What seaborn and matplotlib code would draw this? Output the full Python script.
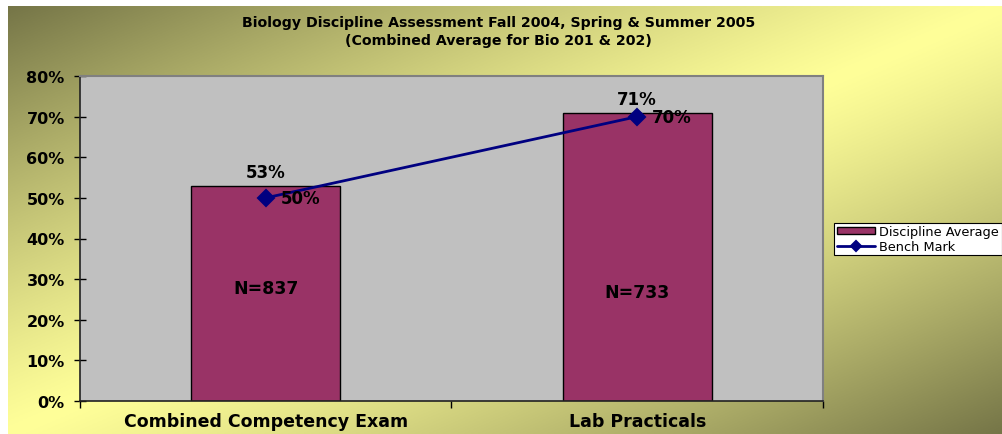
import matplotlib
matplotlib.use("Agg")
import matplotlib.pyplot as plt
import numpy as np
import seaborn as sns
from matplotlib.ticker import FixedLocator, PercentFormatter

categories = ["Combined Competency Exam", "Lab Practicals"]
discipline_avg = [0.53, 0.71]
bench_mark = [0.50, 0.70]
n_labels = ["N=837", "N=733"]
n_label_y = [0.278, 0.268]

title = ("Biology Discipline Assessment Fall 2004, Spring & Summer 2005\n"
         "(Combined Average for Bio 201 & 202)")

sns.set_theme(style="white")
plt.rcParams["font.family"] = ["DejaVu Sans"]
plt.rcParams["text.color"] = "black"
plt.rcParams["xtick.color"] = "black"
plt.rcParams["ytick.color"] = "black"
plt.rcParams["axes.labelcolor"] = "black"

fig = plt.figure(figsize=(10.03, 4.35), dpi=100)
fig.patch.set_facecolor("white")

# gradient background (dark olive corners, pale yellow along the anti-diagonal)
bg = fig.add_axes([8 / 1003, 0, 1 - 8 / 1003, 1 - 7 / 435], zorder=-5)
gx, gy = np.meshgrid(np.linspace(0, 1, 400), np.linspace(0, 1, 200))
t = np.abs(gx + gy - 1) ** 1.2
dark = np.array([0.46, 0.46, 0.28])
light = np.array([1.0, 1.0, 0.60])
img = light[None, None, :] + (dark - light)[None, None, :] * t[..., None]
bg.imshow(img, aspect="auto", extent=[0, 1, 1, 0])
bg.axis("off")

ax = fig.add_axes([80 / 1003, 1 - 402 / 435, 743 / 1003, 325 / 435])
ax.set_facecolor("#c0c0c0")

sns.barplot(x=categories, y=discipline_avg, color="#993366", width=0.4,
            edgecolor="black", linewidth=1, saturation=1, ax=ax,
            label="Discipline Average")
sns.pointplot(x=categories, y=bench_mark, color="#000080", marker="D",
              markersize=8, linewidth=2, errorbar=None, ax=ax,
              label="Bench Mark")

for i, v in enumerate(discipline_avg):
    ax.text(i, v + 0.012, f"{v:.0%}", ha="center", va="bottom",
            fontsize=12, fontweight="bold")
for i, v in enumerate(bench_mark):
    ax.text(i + 0.04, v, f"{v:.0%}", ha="left", va="center",
            fontsize=12, fontweight="bold")
for i, s in enumerate(n_labels):
    ax.text(i, n_label_y[i], s, ha="center", va="center",
            fontsize=12.5, fontweight="bold")

ax.set_xlim(-0.5, 1.5)
ax.set_ylim(0, 0.8)
ax.yaxis.set_major_locator(FixedLocator(np.arange(0, 0.81, 0.1)))
ax.yaxis.set_major_formatter(PercentFormatter(1.0, decimals=0))
ax.tick_params(axis="y", direction="inout", length=8, width=1,
               labelsize=11.5, pad=7, left=True)
for lab in ax.get_yticklabels():
    lab.set_fontweight("bold")

ax.xaxis.set_minor_locator(FixedLocator([-0.5, 0.5, 1.5]))
ax.tick_params(axis="x", which="major", length=0, labelsize=12.5, pad=8)
ax.tick_params(axis="x", which="minor", direction="out", length=5,
               width=1, bottom=True)
for lab in ax.get_xticklabels():
    lab.set_fontweight("bold")
ax.set_xlabel("")
ax.set_ylabel("")

for side in ["left", "bottom"]:
    ax.spines[side].set_color("#222222")
    ax.spines[side].set_linewidth(1.2)
for side in ["top", "right"]:
    ax.spines[side].set_color("#808080")
    ax.spines[side].set_linewidth(1.5)

handles, labels = ax.get_legend_handles_labels()
order = [labels.index("Discipline Average"), labels.index("Bench Mark")]
leg = ax.legend([handles[k] for k in order], [labels[k] for k in order],
                loc="center left", bbox_to_anchor=(834 / 1003, 1 - 240 / 435),
                bbox_transform=fig.transFigure, frameon=True, fancybox=False,
                edgecolor="black", facecolor="white", framealpha=1,
                fontsize=9.3, handlelength=3.0, handleheight=0.5,
                handletextpad=0.3, borderpad=0.2, labelspacing=0.1,
                borderaxespad=0)
leg.get_frame().set_linewidth(0.8)
leg.legend_handles[1].set_markersize(5)

fig.text(0.497, 1 - 32 / 435, title, ha="center", va="center",
         fontsize=10.2, fontweight="bold", linespacing=1.35)

fig.savefig("out.png", dpi=100)
